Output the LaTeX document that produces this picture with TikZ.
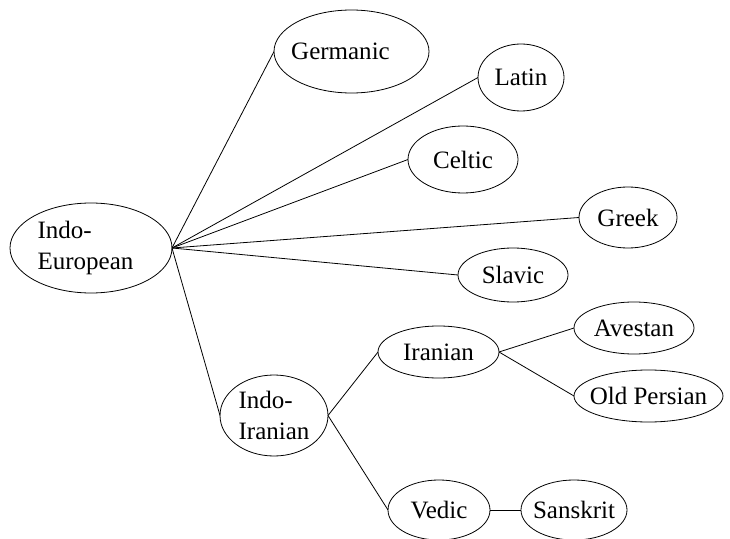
\documentclass[tikz,border=0pt]{standalone}
\usepackage{fontspec}
\setmainfont{Liberation Serif}
\usetikzlibrary{shapes.geometric}
\begin{document}
\begin{tikzpicture}[x=1bp,y=-1bp,
  ell/.style={draw, ellipse, line width=0.8bp, inner sep=0pt, outer sep=0pt,
    font=\fontsize{25bp}{31bp}\selectfont, align=left},
  conn/.style={draw, line width=0.8bp}]
\useasboundingbox (0,0) rectangle (730,539);
\node[ell, minimum width=162bp, minimum height=90bp] (ie) at (91,248) {Indo-\\European\hspace*{11bp}};
\node[ell, minimum width=155bp, minimum height=83bp, inner xsep=-8bp] (ger) at (351.5,51.5) {Germanic\hspace*{22bp}};
\node[ell, minimum width=86bp, minimum height=67bp] (lat) at (521,77.5) {Latin};
\node[ell, minimum width=110bp, minimum height=67bp] (cel) at (463,159.5) {Celtic};
\node[ell, minimum width=98bp, minimum height=61bp] (gre) at (628,217.5) {Greek};
\node[ell, minimum width=110bp, minimum height=54bp] (sla) at (513,275) {Slavic};
\node[ell, minimum width=108bp, minimum height=81bp] (ii) at (274,415.5) {Indo-\\Iranian};
\node[ell, minimum width=121bp, minimum height=52bp] (ira) at (438.5,352) {Iranian};
\node[ell, minimum width=120bp, minimum height=52bp] (ave) at (634,328) {Avestan};
\node[ell, minimum width=149bp, minimum height=52bp, inner xsep=-7bp] (op) at (648.5,396) {Old Persian};
\node[ell, minimum width=102bp, minimum height=60bp] (ved) at (439,510) {Vedic};
\node[ell, minimum width=106bp, minimum height=60bp, inner xsep=-7bp] (san) at (574,510) {Sanskrit};
\path[conn] (ie.east) -- (ger.west);
\path[conn] (ie.east) -- (lat.west);
\path[conn] (ie.east) -- (cel.west);
\path[conn] (ie.east) -- (gre.west);
\path[conn] (ie.east) -- (sla.west);
\path[conn] (ie.east) -- (ii.west);
\path[conn] (ii.east) -- (ira.west);
\path[conn] (ii.east) -- (ved.west);
\path[conn] (ira.east) -- (ave.west);
\path[conn] (ira.east) -- (op.west);
\path[conn] (ved.east) -- (san.west);
\end{tikzpicture}
\end{document}
